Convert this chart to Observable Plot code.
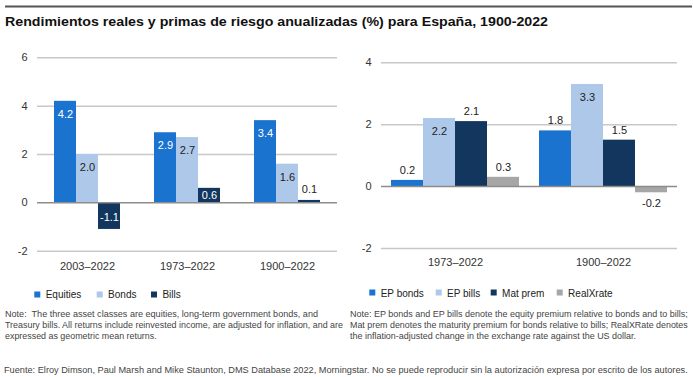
<!DOCTYPE html>
<html><head><meta charset="utf-8">
<script src="https://cdn.jsdelivr.net/npm/d3@7"></script>
<script src="https://cdn.jsdelivr.net/npm/@observablehq/plot@0.6"></script>
<style>
body{margin:0;background:#fff;}
#wrap{position:relative;width:693px;height:377px;overflow:hidden;font-family:"Liberation Sans",Arial,Helvetica,sans-serif;background:#fff;}
#left{position:absolute;left:0;top:40px;}
#right{position:absolute;left:345px;top:40px;}
#overlay{position:absolute;left:0;top:0;pointer-events:none;}
</style></head><body>
<div id="wrap"><div id="left"></div><div id="right"></div><svg id="overlay" width="693" height="377"></svg></div>
<script>
// ---------- data ----------
const title = "Rendimientos reales y primas de riesgo anualizadas (%) para España, 1900-2022";

const leftPeriods = ["2003–2022", "1973–2022", "1900–2022"];
const leftSeries = ["Equities", "Bonds", "Bills"];
const equities = [4.2, 2.9, 3.4];
const bonds = [2.0, 2.7, 1.6];
const bills = [-1.1, 0.6, 0.1];

const rightPeriods = ["1973–2022", "1900–2022"];
const rightSeries = ["EP bonds", "EP bills", "Mat prem", "RealXrate"];
const epBonds = [0.2, 1.8];
const epBills = [2.2, 3.3];
const matPrem = [2.1, 1.5];
const realXrate = [0.3, -0.2];

const leftNote = [
  "Note:\u00a0 The three asset classes are equities, long-term government bonds, and",
  "Treasury bills. All returns include reinvested income, are adjusted for inflation, and are",
  "expressed as geometric mean returns."
];
const rightNote = [
  "Note: EP bonds and EP bills denote the equity premium relative to bonds and to bills;",
  "Mat prem denotes the maturity premium for bonds relative to bills; RealXRate denotes",
  "the inflation-adjusted change in the exchange rate against the US dollar."
];
const source = "Fuente: Elroy Dimson, Paul Marsh and Mike Staunton, DMS Database 2022, Morningstar. No se puede reproducir sin la autorización expresa por escrito de los autores.";

// ---------- styles ----------
const FONT = '"Liberation Sans", Arial, Helvetica, sans-serif';
const cBlue = "#1a73cf", cLight = "#aec8ea", cNavy = "#12365e", cGray = "#a6a6a6";
const gridColor = "#c8c8c8", zeroColor = "#8c8c8c", textDark = "#222";

function build(periods, series, cols) {
  return periods.flatMap((p, i) => series.map((s, j) => ({period: p, series: s, value: cols[j][i]})));
}
const leftData = build(leftPeriods, leftSeries, [equities, bonds, bills]);
const rightData = build(rightPeriods, rightSeries, [epBonds, epBills, matPrem, realXrate]);
const fmt = d => d.value.toFixed(1);

function lbl(data, filter, y, dy, fill) {
  return Plot.text(data.filter(filter), {fx: "period", x: "series", y, dy, text: fmt, fill, fontSize: 11, fontFamily: FONT});
}

const leftPlot = Plot.plot({
  width: 345, height: 240,
  marginLeft: 36, marginRight: 7.3, marginTop: 17.3, marginBottom: 29.3,
  style: {fontFamily: FONT, fontSize: "11px", color: "#333", background: "transparent", overflow: "visible"},
  fx: {domain: leftPeriods, padding: 0, label: null, tickSize: 0, tickPadding: 11},
  x: {domain: leftSeries, paddingInner: 0, paddingOuter: 0.75, axis: null},
  y: {domain: [-2, 6], ticks: 4, tickSize: 0, tickPadding: 10, label: null, tickFormat: d => String(d)},
  color: {domain: leftSeries, range: [cBlue, cLight, cNavy]},
  marks: [
    Plot.ruleY([-2, 2, 4, 6], {stroke: gridColor, strokeWidth: 1.5}),
    Plot.barY(leftData, {fx: "period", x: "series", y: "value", fill: "series"}),
    Plot.ruleY([0], {stroke: zeroColor, strokeWidth: 1.5}),
    lbl(leftData, d => d.series !== "Bonds" && d.value >= 1, "value", 13, "white"),
    lbl(leftData, d => d.series === "Bonds" && d.value >= 1, "value", 13, textDark),
    lbl(leftData, d => d.value <= -1, "value", -12, "white"),
    lbl(leftData, d => Math.abs(d.value) >= 0.5 && Math.abs(d.value) < 1, d => d.value / 2, 0, "white"),
    lbl(leftData, d => Math.abs(d.value) < 0.5, "value", -11, textDark)
  ]
});
document.getElementById("left").appendChild(leftPlot);

const rightPlot = Plot.plot({
  width: 348, height: 240,
  marginLeft: 35, marginRight: 15.3, marginTop: 22.3, marginBottom: 32,
  style: {fontFamily: FONT, fontSize: "11px", color: "#333", background: "transparent", overflow: "visible"},
  fx: {domain: rightPeriods, padding: 0, label: null, tickSize: 0, tickPadding: 9.7},
  x: {domain: rightSeries, paddingInner: 0, paddingOuter: 0.258, axis: null},
  y: {domain: [-2, 4], ticks: 3, tickSize: 0, tickPadding: 10, label: null, tickFormat: d => String(d)},
  color: {domain: rightSeries, range: [cBlue, cLight, cNavy, cGray]},
  marks: [
    Plot.ruleY([-2, 2, 4], {stroke: gridColor, strokeWidth: 1.5}),
    Plot.barY(rightData, {fx: "period", x: "series", y: "value", fill: "series"}),
    Plot.ruleY([0], {stroke: zeroColor, strokeWidth: 1.5}),
    lbl(rightData, d => d.series === "EP bills", "value", 13, textDark),
    lbl(rightData, d => d.series !== "EP bills" && d.value >= 0, "value", -10, textDark),
    lbl(rightData, d => d.series !== "EP bills" && d.value < 0, "value", 11, textDark)
  ]
});
document.getElementById("right").appendChild(rightPlot);

// ---------- overlay: title, legends, notes, source ----------
const svg = d3.select("#overlay").style("font-family", FONT);
svg.append("line").attr("x1", 5).attr("x2", 692).attr("y1", 6.5).attr("y2", 6.5)
  .attr("stroke", "#555").attr("stroke-width", 2);

function txt(x, y, s, size, opts = {}) {
  const t = svg.append("text").attr("x", x).attr("y", y).text(s)
    .attr("font-size", size).attr("fill", opts.fill || "#333");
  if (opts.weight) t.attr("font-weight", opts.weight);
  if (opts.len) t.attr("textLength", opts.len).attr("lengthAdjust", "spacingAndGlyphs");
  return t;
}
txt(5, 26, title, 13, {weight: "bold", fill: "#111", len: 543});

// legends
const legendLeftX = [34.3, 96.7, 151];
leftSeries.forEach((s, i) => {
  svg.append("rect").attr("x", legendLeftX[i]).attr("y", 291.5).attr("width", 6).attr("height", 6)
    .attr("fill", [cBlue, cLight, cNavy][i]);
  txt(legendLeftX[i] + 11.4, 298, s, 10, {fill: "#222"});
});
const legendRightX = [369.3, 435.7, 490.7, 556.7];
rightSeries.forEach((s, i) => {
  svg.append("rect").attr("x", legendRightX[i]).attr("y", 289.5).attr("width", 6).attr("height", 6)
    .attr("fill", [cBlue, cLight, cNavy, cGray][i]);
  txt(legendRightX[i] + 11.4, 296.5, s, 10, {fill: "#222"});
});

// notes
const leftLens = [313, 338, 151.7];
leftNote.forEach((s, i) => txt(5, 316.5 + i * 11, s, 8.7, {fill: "#444", len: leftLens[i]}));
const rightLens = [337.7, 337.7, 286];
rightNote.forEach((s, i) => txt(350, 316.5 + i * 11, s, 8.7, {fill: "#444", len: rightLens[i]}));

txt(4, 373, source, 8.3, {fill: "#444", len: 683.7});
</script>
</body></html>
